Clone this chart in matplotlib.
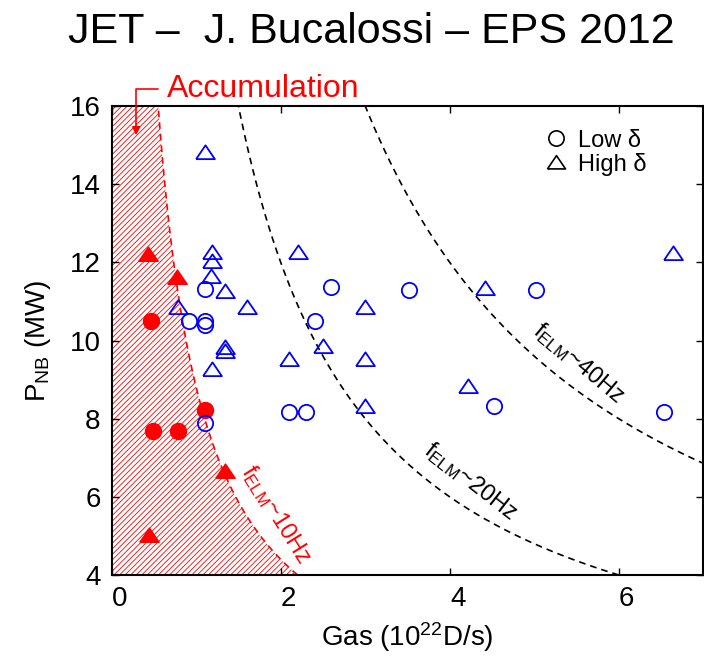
import numpy as np
import matplotlib
matplotlib.use("Agg")
import matplotlib.pyplot as plt
from matplotlib.lines import Line2D
from matplotlib.transforms import ScaledTranslation

plt.rcParams['font.family'] = ['Liberation Sans', 'DejaVu Sans']
plt.rcParams['mathtext.fontset'] = 'custom'
plt.rcParams['mathtext.rm'] = 'Liberation Sans'
plt.rcParams['mathtext.it'] = 'Liberation Sans:italic'
plt.rcParams['hatch.linewidth'] = 0.6
plt.rcParams['hatch.color'] = 'red'

# data
low_x = [1.10, 0.92, 1.10, 1.10, 2.60, 2.40, 2.10, 2.30, 1.10, 3.52, 5.02, 4.53, 6.54]
low_y = [11.33, 10.51, 10.51, 10.40, 11.38, 10.51, 8.18, 8.18, 7.90, 11.29, 11.29, 8.32, 8.18]

high_x = [1.10, 1.19, 1.19, 1.17, 1.34, 0.79, 1.60, 2.20, 3.00, 1.34, 1.34, 1.19,
          2.10, 2.50, 3.00, 3.00, 6.64, 4.42, 4.22]
high_y = [14.80, 12.23, 12.02, 11.63, 11.25, 10.82, 10.82, 12.23, 10.82, 9.80, 9.71, 9.24,
          9.50, 9.84, 9.50, 8.31, 12.21, 11.33, 8.82]

acc_low_x = [0.47, 0.49, 0.79, 1.10]
acc_low_y = [10.51, 7.68, 7.68, 8.22]
acc_high_x = [0.43, 0.77, 1.34, 0.44]
acc_high_y = [12.20, 11.59, 6.64, 5.00]

# constant gas*power curves for the ELM frequencies
felm_labels = ['10Hz', '20Hz', '40Hz']
felm_const = [8.8, 24.0, 48.0]

xticks = [0, 2, 4, 6]
yticks = [4, 6, 8, 10, 12, 14, 16]

tri = [(-1.0, -0.6), (1.0, -0.6), (0.0, 0.87), (-1.0, -0.6)]

fig = plt.figure(figsize=(7.04, 6.58), dpi=100)
ax = fig.add_axes([111.7 / 704, 1 - 575 / 658, 591.5 / 704, 469 / 658])

P = np.linspace(4, 16, 300)

# accumulation region (hatched) and curves
ax.fill_betweenx(P, 0, felm_const[0] / P, facecolor='white', edgecolor='red',
                 hatch='//////', linewidth=0, zorder=1)
ax.plot(felm_const[0] / P, P, color='red', ls=(0, (4, 3)), lw=1.2, zorder=2)
for c in felm_const[1:]:
    ax.plot(c / P, P, color='black', ls=(0, (4, 3)), lw=1.2, zorder=2)

ax.text(1.94, 5.55, r'f$_{\mathregular{ELM}}$~' + felm_labels[0], color='red',
        fontsize=17, rotation=-58, ha='center', va='center')
ax.text(4.25, 6.40, r'f$_{\mathregular{ELM}}$~' + felm_labels[1], color='black',
        fontsize=17, rotation=-38, ha='center', va='center')
ax.text(5.52, 9.42, r'f$_{\mathregular{ELM}}$~' + felm_labels[2], color='black',
        fontsize=17, rotation=-40, ha='center', va='center')

# markers
ax.plot(acc_low_x, acc_low_y, 'o', color='red', ms=11.5, zorder=3)
ax.plot(acc_high_x, acc_high_y, marker=tri, ls='none', color='red', ms=14, zorder=3)
ax.plot(low_x, low_y, 'o', mfc='none', mec='blue', mew=1.3, ms=11, zorder=4)
ax.plot(high_x, high_y, marker=tri, ls='none', mfc='none', mec='blue', mew=1.3,
        ms=13.5, zorder=4)

# legend
handles = [Line2D([], [], marker='o', ls='none', mfc='none', mec='black', mew=1.2, ms=11),
           Line2D([], [], marker=tri, ls='none', mfc='none', mec='black', mew=1.2, ms=13)]
ax.legend(handles, [u'Low \u03b4', u'High \u03b4'], loc='upper left',
          bbox_to_anchor=(0.70, 0.995), frameon=False, fontsize=17,
          handlelength=0.8, handletextpad=0.5, labelspacing=0.05)

# accumulation label and arrow
ax.text(0.65, 16.22, 'Accumulation', color='red', fontsize=23, va='baseline')
ax.annotate('', xy=(0.29, 15.25), xytext=(0.55, 16.44), annotation_clip=False,
            arrowprops=dict(arrowstyle='-|>', color='red', lw=1.2, mutation_scale=12,
                            shrinkA=0, shrinkB=0,
                            connectionstyle='angle,angleA=180,angleB=90,rad=0'))

ax.set_xlim(0, 7)
ax.set_ylim(4, 16)
ax.set_xticks(xticks)
ax.set_yticks(yticks)
ax.tick_params(direction='in', top=True, right=True, length=5, width=1,
               labelsize=20, pad=8)
for sp in ax.spines.values():
    sp.set_linewidth(1.5)

off = ScaledTranslation(8 / 100, 0, fig.dpi_scale_trans)
for lab in ax.get_xticklabels():
    lab.set_transform(lab.get_transform() + off)

ax.set_xlabel(r'Gas (10$^{22}$D/s)', fontsize=20, labelpad=6)
ax.set_ylabel(r'P$_{\mathregular{NB}}$ (MW)', fontsize=20, labelpad=12)

fig.text(0.527, 0.951, u'JET \u2013  J. Bucalossi \u2013 EPS 2012', fontsize=31,
         ha='center', va='center')

fig.savefig('out.png', dpi=100)
